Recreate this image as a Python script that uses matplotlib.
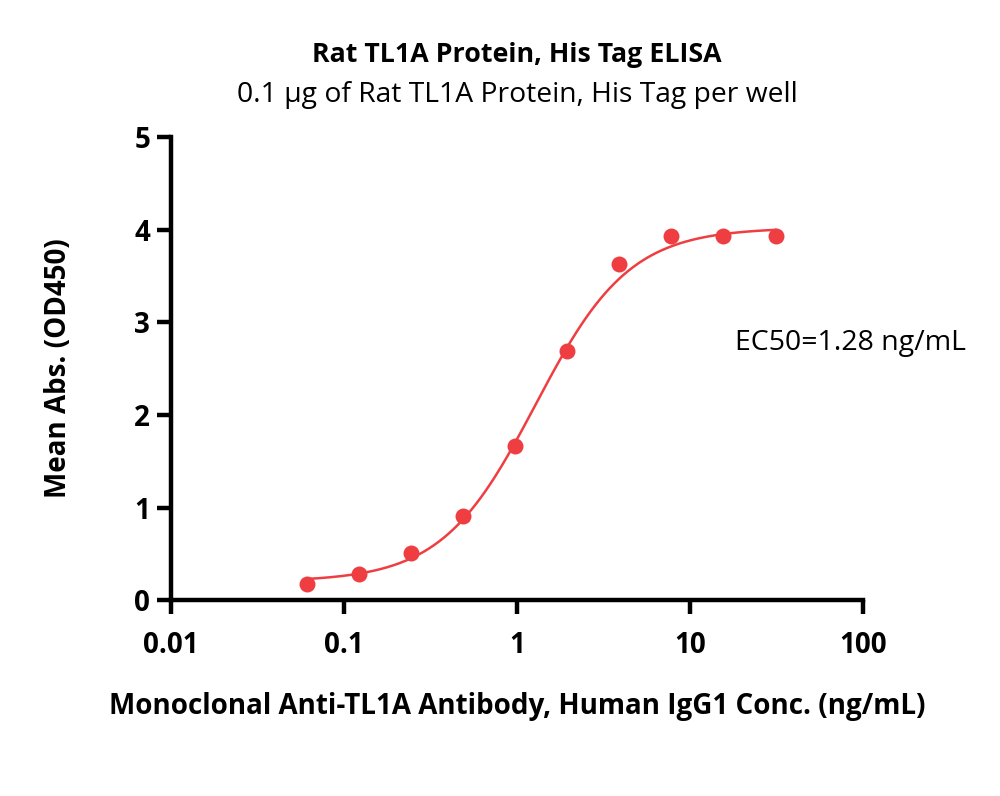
import numpy as np
import matplotlib.pyplot as plt

plt.rcParams['font.family'] = ['Open Sans', 'DejaVu Sans']

# antibody conc (ng/mL) and mean OD450
conc = [0.061, 0.122, 0.244, 0.488, 0.977, 1.95, 3.91, 7.81, 15.6, 31.25]
od = [0.17, 0.28, 0.51, 0.91, 1.66, 2.69, 3.63, 3.93, 3.93, 3.93]

# 4PL fit parameters
bottom, top, ec50, hill = 0.20, 4.02, 1.28, 1.6

red = '#EF3E42'

fig = plt.figure(figsize=(10, 7.96), dpi=100)
ax = fig.add_axes([0.171, 0.246, 0.692, 0.582])

xf = np.logspace(np.log10(conc[0]), np.log10(conc[-1]), 300)
yf = bottom + (top - bottom) / (1 + (ec50 / xf) ** hill)
ax.plot(xf, yf, color=red, lw=1.8)
ax.plot(conc, od, 'o', color=red, ms=11.5, mec='none')

ax.set_xscale('log')
ax.set_xlim(0.01, 100)
ax.set_ylim(0, 5)
ax.set_xticks([0.01, 0.1, 1, 10, 100])
ax.set_xticklabels(['0.01', '0.1', '1', '10', '100'])
ax.set_yticks([0, 1, 2, 3, 4, 5])
ax.minorticks_off()

for s in ['top', 'right']:
    ax.spines[s].set_visible(False)
for s in ['left', 'bottom']:
    ax.spines[s].set_linewidth(3.2)
ax.tick_params(width=3.2, length=10, labelsize=20, pad=5)
for lab in ax.get_xticklabels() + ax.get_yticklabels():
    lab.set_fontweight('bold')
ax.tick_params(axis='x', pad=12)

ax.set_xlabel('Monoclonal Anti-TL1A Antibody, Human IgG1 Conc. (ng/mL)',
              fontsize=20, fontweight='bold', labelpad=23)
ax.set_ylabel('Mean Abs. (OD450)', fontsize=20, fontweight='bold', labelpad=44)

fig.text(0.517, 0.931, 'Rat TL1A Protein, His Tag ELISA', ha='center', va='center',
         fontsize=19.3, fontweight='bold')
fig.text(0.517, 0.881, '0.1 µg of Rat TL1A Protein, His Tag per well', ha='center',
         va='center', fontsize=20.3)
ax.text(0.735, 0.569, 'EC50=1.28 ng/mL', transform=fig.transFigure, ha='left',
        va='center', fontsize=20.5)

fig.savefig('out.png', dpi=100)
